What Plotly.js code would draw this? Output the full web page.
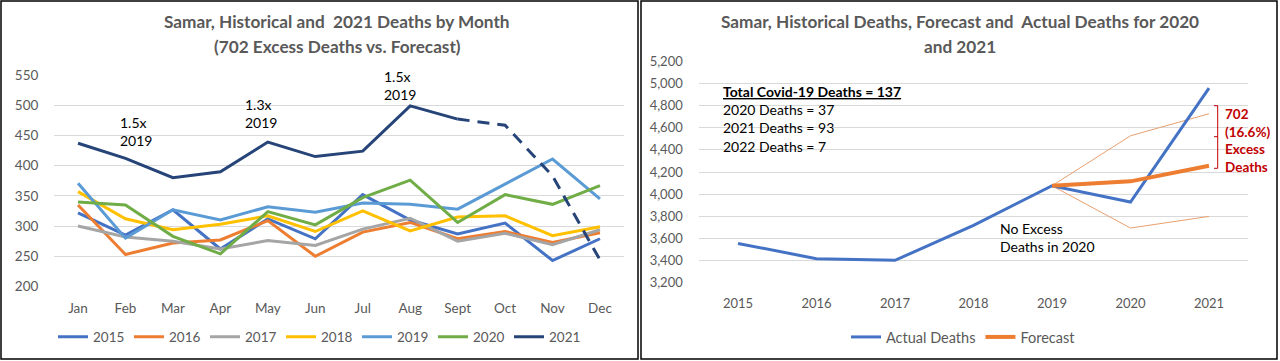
<!DOCTYPE html>
<html>
<head>
<meta charset="utf-8">
<script src="https://cdn.plot.ly/plotly-3.0.1.min.js"></script>
<style>
html,body{margin:0;padding:0;background:#fff;}
#chart{width:1280px;height:361px;}
</style>
</head>
<body>
<div id="chart"></div>
<script>
// ---- Left chart data: monthly deaths ----
var months = ['Jan','Feb','Mar','Apr','May','Jun','Jul','Aug','Sept','Oct','Nov','Dec'];
var d2015 = [322, 285, 327, 262, 312, 279, 352, 310, 287, 305, 243, 279];
var d2016 = [335, 253, 272, 277, 309, 250, 290, 306, 279, 291, 273, 289];
var d2017 = [300, 282, 275, 262, 276, 268, 295, 313, 275, 288, 269, 294];
var d2018 = [357, 312, 294, 303, 317, 291, 325, 292, 315, 317, 284, 299];
var d2019 = [371, 280, 327, 310, 332, 323, 338, 336, 328, 369, 411, 345];
var d2020 = [340, 335, 283, 254, 324, 302, 347, 376, 306, 352, 336, 367];
var d2021 = [437, 412, 380, 390, 439, 415, 424, 499, 477, 467, 383, 244];
var solidMonths = 9; // Jan..Sept solid, Sept..Dec dashed

// ---- Right chart data: yearly deaths ----
var years = ['2015','2016','2017','2018','2019','2020','2021'];
var actualDeaths = [3555, 3417, 3402, 3718, 4076, 3929, 4959];
var forecastYears = ['2019','2020','2021'];
var forecast = [4076, 4116, 4257];
var forecastUpper = [4076, 4528, 4727];
var forecastLower = [4076, 3694, 3799];

var FONT = 'Lato, "Open Sans", "Liberation Sans", sans-serif';
var W = 1280, H = 361;
function px(x){ return x / W; }
function py(y){ return (H - y) / H; }

var monthSeries = [
  {name:'2015', y:d2015, color:'#4472C4'},
  {name:'2016', y:d2016, color:'#ED7D31'},
  {name:'2017', y:d2017, color:'#A5A5A5'},
  {name:'2018', y:d2018, color:'#FFC000'},
  {name:'2019', y:d2019, color:'#5B9BD5'},
  {name:'2020', y:d2020, color:'#70AD47'}
];

var traces = monthSeries.map(function(s){
  return {type:'scatter', mode:'lines', x:months, y:s.y, name:s.name,
    xaxis:'x', yaxis:'y', legend:'legend',
    line:{color:s.color, width:3}, hoverinfo:'x+y+name'};
});
traces.push({type:'scatter', mode:'lines', x:months.slice(0, solidMonths), y:d2021.slice(0, solidMonths),
  name:'2021', xaxis:'x', yaxis:'y', legend:'legend', line:{color:'#264478', width:3}});
traces.push({type:'scatter', mode:'lines', x:months.slice(solidMonths-1), y:d2021.slice(solidMonths-1),
  name:'2021', showlegend:false, xaxis:'x', yaxis:'y', legend:'legend',
  line:{color:'#264478', width:3, dash:'12px,8px'}});

// right chart
traces.push({type:'scatter', mode:'lines', x:forecastYears, y:forecastUpper, showlegend:false,
  xaxis:'x2', yaxis:'y2', legend:'legend2', line:{color:'#E8A06E', width:1}, name:'Upper'});
traces.push({type:'scatter', mode:'lines', x:forecastYears, y:forecastLower, showlegend:false,
  xaxis:'x2', yaxis:'y2', legend:'legend2', line:{color:'#E8A06E', width:1}, name:'Lower'});
traces.push({type:'scatter', mode:'lines', x:years, y:actualDeaths, name:'Actual Deaths',
  xaxis:'x2', yaxis:'y2', legend:'legend2', line:{color:'#4472C4', width:3}});
traces.push({type:'scatter', mode:'lines', x:forecastYears, y:forecast, name:'Forecast',
  xaxis:'x2', yaxis:'y2', legend:'legend2', line:{color:'#ED7D31', width:4}});

var tickFontL = {family:FONT, size:13.5, color:'#595959'};
var tickFontR = {family:FONT, size:13, color:'#595959'};
var titleFont = {family:FONT, size:17.2, color:'#595959'};

var layout = {
  width:W, height:H,
  margin:{l:0, r:0, t:0, b:0, pad:0},
  paper_bgcolor:'#ffffff', plot_bgcolor:'rgba(0,0,0,0)',
  font:{family:FONT, color:'#595959'},
  xaxis:{domain:[px(54.3), px(623.7)], type:'category', categoryorder:'array', categoryarray:months,
    range:[-0.5, 11.5], showgrid:false, zeroline:false, showline:false, ticks:'',
    tickfont:tickFontL, ticklabelstandoff:12, fixedrange:true},
  yaxis:{domain:[py(286.5), py(75)], range:[200, 550], dtick:50, tick0:200,
    showgrid:true, gridcolor:'#D9D9D9', gridwidth:1, zeroline:false, showline:false, ticks:'',
    tickfont:tickFontL, ticklabelstandoff:15, fixedrange:true},
  xaxis2:{domain:[px(698.75), px(1248.25)], type:'category', categoryorder:'array', categoryarray:years,
    range:[-0.5, 6.5], showgrid:false, zeroline:false, showline:false, ticks:'',
    tickfont:tickFontR, ticklabelstandoff:11, anchor:'y2', fixedrange:true},
  yaxis2:{domain:[py(282.7), py(61.4)], range:[3200, 5200], dtick:200, tick0:3200, tickformat:',d',
    showgrid:true, gridcolor:'#D9D9D9', gridwidth:1, zeroline:false, showline:false, ticks:'',
    tickfont:tickFontR, ticklabelstandoff:15, anchor:'x2', fixedrange:true},
  showlegend:true,
  legend:{orientation:'h', x:px(53), xanchor:'left', y:py(337), yanchor:'middle',
    font:{family:FONT, size:13.5, color:'#595959'}, bgcolor:'rgba(0,0,0,0)',
    entrywidth:31, entrywidthmode:'pixels', itemwidth:30, tracegroupgap:0},
  legend2:{orientation:'h', x:px(846), xanchor:'left', y:py(337), yanchor:'middle',
    font:{family:FONT, size:14.5, color:'#595959'}, bgcolor:'rgba(0,0,0,0)', itemwidth:30},
  annotations:[
    {xref:'paper', yref:'paper', x:px(337), y:py(22), xanchor:'center', yanchor:'middle', showarrow:false,
      text:'<b>Samar, Historical and  2021 Deaths by Month</b>', font:titleFont},
    {xref:'paper', yref:'paper', x:px(337), y:py(46), xanchor:'center', yanchor:'middle', showarrow:false,
      text:'<b>(702 Excess Deaths vs. Forecast)</b>', font:titleFont},
    {xref:'paper', yref:'paper', x:px(960), y:py(22), xanchor:'center', yanchor:'middle', showarrow:false,
      text:'<b>Samar, Historical Deaths, Forecast and  Actual Deaths for 2020</b>', font:titleFont},
    {xref:'paper', yref:'paper', x:px(960), y:py(46), xanchor:'center', yanchor:'middle', showarrow:false,
      text:'<b>and 2021</b>', font:titleFont},
    {xref:'paper', yref:'paper', x:px(118), y:py(131.5), xanchor:'left', yanchor:'middle', showarrow:false, align:'left',
      text:'1.5x<br>2019', font:{family:FONT, size:14, color:'#000000'}},
    {xref:'paper', yref:'paper', x:px(243), y:py(113.5), xanchor:'left', yanchor:'middle', showarrow:false, align:'left',
      text:'1.3x<br>2019', font:{family:FONT, size:14, color:'#000000'}},
    {xref:'paper', yref:'paper', x:px(382), y:py(86), xanchor:'left', yanchor:'middle', showarrow:false, align:'left',
      text:'1.5x<br>2019', font:{family:FONT, size:14, color:'#000000'}},
    {xref:'paper', yref:'paper', x:px(721), y:py(119), xanchor:'left', yanchor:'middle', showarrow:false, align:'left',
      text:'<b><u>Total Covid-19 Deaths = 137</u></b><br>2020 Deaths = 37<br>2021 Deaths = 93<br>2022 Deaths = 7',
      font:{family:FONT, size:14, color:'#000000'}},
    {xref:'paper', yref:'paper', x:px(998), y:py(237.5), xanchor:'left', yanchor:'middle', showarrow:false, align:'left',
      text:'No Excess<br>Deaths in 2020', font:{family:FONT, size:14, color:'#000000'}},
    {xref:'paper', yref:'paper', x:px(1223), y:py(140.7), xanchor:'left', yanchor:'middle', showarrow:false, align:'left',
      text:'<b>702<br>(16.6%)<br>Excess<br>Deaths</b>', font:{family:FONT, size:13.5, color:'#C00000'}}
  ],
  shapes:[
    {type:'rect', xref:'paper', yref:'paper', x0:px(1), x1:px(638), y0:py(359), y1:py(1), line:{color:'#000000', width:1.5}, fillcolor:'rgba(0,0,0,0)'},
    {type:'rect', xref:'paper', yref:'paper', x0:px(641), x1:px(1277), y0:py(359), y1:py(1), line:{color:'#000000', width:1.5}, fillcolor:'rgba(0,0,0,0)'},
    {type:'path', xref:'paper', yref:'paper', line:{color:'#C00000', width:1},
      path:'M'+px(1214)+','+py(105.7)+' L'+px(1217.7)+','+py(105.7)+' L'+px(1217.7)+','+py(168.3)+' L'+px(1214)+','+py(168.3)+' M'+px(1217.7)+','+py(136.7)+' L'+px(1214)+','+py(136.7)}
  ]
};

Plotly.newPlot('chart', traces, layout, {displayModeBar:false, staticPlot:true});
</script>
</body>
</html>
